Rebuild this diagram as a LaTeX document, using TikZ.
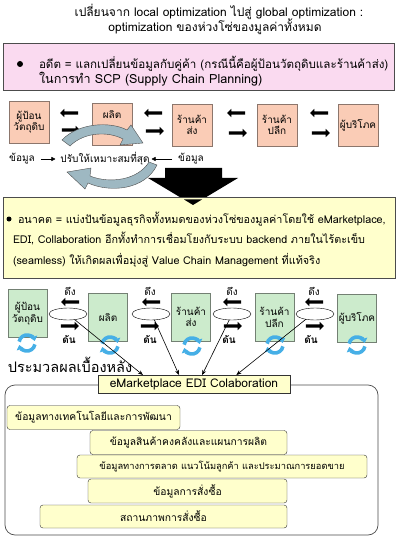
\documentclass[tikz,border=0pt]{standalone}
\usepackage{fontspec}
\setmainfont[Script=Thai]{Loma}
\usetikzlibrary{shapes.geometric,shapes.arrows,arrows.meta}

\definecolor{pinkfill}{RGB}{250,218,240}
\definecolor{peach}{RGB}{250,204,182}
\definecolor{peachedge}{RGB}{140,118,108}
\definecolor{greenfill}{RGB}{204,235,204}
\definecolor{greenedge}{RGB}{115,128,115}
\definecolor{softyellow}{RGB}{255,255,204}
\definecolor{swirl}{RGB}{158,184,194}
\definecolor{cycblue}{RGB}{70,175,230}

\begin{document}
\begin{tikzpicture}[x=1pt, y=-1pt,
  every node/.style={inner sep=1pt, outer sep=0pt},
  big/.style={font=\fontsize{12}{14}\selectfont},
  mid/.style={font=\fontsize{10.8}{13}\selectfont},
  small/.style={font=\fontsize{10}{11.5}\selectfont},
  pbox/.style={draw=peachedge, fill=peach, minimum width=40pt, minimum height=42pt, align=center, small},
  gbox/.style={draw=greenedge, fill=greenfill, minimum width=39pt, minimum height=48pt, align=center, small},
  infobox/.style={draw=black!80, fill=softyellow, rounded corners=3pt, minimum height=24pt, font=\fontsize{10.3}{12}\selectfont},
  blk/.style={single arrow, fill=black, minimum height=18pt, inner sep=1.5pt, single arrow head extend=2.5pt, single arrow head indent=0pt},
  link/.style={ellipse, draw, fill=white, minimum width=38pt, minimum height=12pt, inner sep=0pt},
  dot/.style={circle, fill=black, minimum size=6pt, inner sep=0pt},
  feed/.style={-{Triangle[length=4pt,width=4pt]}, line width=0.5pt},
  share/.style={-{Stealth[length=5pt,width=4pt]}, line width=0.6pt},
  cyc/.style={draw=cycblue, line width=3.6pt, -{Triangle[length=4.5pt,width=7.5pt]}},
  swirlarrow/.style={fill=swirl, draw=black!70, line width=0.4pt}]
\useasboundingbox (0,0) rectangle (400,537);

% heading
\node[big] (title1) at (219,12) {เปลี่ยนจาก local optimization ไปสู่ global optimization :};
\node[big] (title2) at (215,27) {optimization ของห่วงโซ่ของมูลค่าทั้งหมด};

% past
\node[draw=black!70, fill=pinkfill, minimum width=391pt, minimum height=47pt] (past) at (198.5,66.5) {};
\node[dot] (dot1) at (20,64) {};
\node[font=\fontsize{11.6}{14}\selectfont, anchor=west] (pastA) at (38,64) {อดีต = แลกเปลี่ยนข้อมูลกับคู่ค้า (กรณีนี้คือผู้ป้อนวัตถุดิบและร้านค้าส่ง)};
\node[font=\fontsize{12.6}{14}\selectfont, anchor=west] (pastB) at (38,79) {ในการทำ SCP (Supply Chain Planning)};

\node[pbox] (p1) at (29,122) {ผู้ป้อน\\วัตถุดิบ};
\node[pbox, text depth=20pt] (p2) at (112,124) {ผลิต};
\node[pbox] (p3) at (192,125) {ร้านค้า\\ส่ง};
\node[pbox] (p4) at (277,125) {ร้านค้า\\ปลีก};
\node[pbox] (p5) at (358,125) {ผู้บริโภค};

\node[blk, shape border rotate=180] (pl1) at (70,113) {};
\node[blk] (pr1) at (70,130) {};
\node[blk, shape border rotate=180] (pl2) at (154,113) {};
\node[blk] (pr2) at (154,131) {};
\node[blk, shape border rotate=180] (pl3) at (237,113) {};
\node[blk] (pr3) at (237,133) {};
\node[blk, shape border rotate=180] (pl4) at (320,113) {};
\node[blk] (pr4) at (320,133) {};

\filldraw[swirlarrow] (62,140) .. controls (78,123) and (110,121) .. (127,130) -- (131,125) -- (143,143) -- (120,145) -- (123,139) .. controls (108,131) and (84,132) .. (70,146) -- cycle;
\filldraw[swirlarrow] (157,165) .. controls (145,190) and (110,193) .. (88,183) -- (85,189) -- (67,172) -- (91,168) -- (90,176) .. controls (110,184) and (138,180) .. (149,162) -- cycle;

\node[small] (data1) at (22,159) {ข้อมูล};
\node[small] (tune) at (105,159) {ปรับให้เหมาะสมที่สุด};
\node[small] (data2) at (191,159) {ข้อมูล};
\draw[feed, shorten <=5pt, shorten >=4pt] (data1) -- (tune);
\draw[feed, shorten <=5pt, shorten >=1pt] (data2) -- (tune);

\fill (165,168) -- (222,168) -- (222,178) -- (238,178) -- (193,205) -- (148,178) -- (165,178) -- cycle;

% future
\node[draw=black!70, fill=softyellow, minimum width=392pt, minimum height=81pt] (future) at (199,237.5) {};
\fill (193,205) -- (184,199.5) -- (202,199.5) -- cycle;
\node[dot, minimum size=5pt] (dot2) at (9,219) {};
\node[mid, anchor=west] (futA) at (17,219) {อนาคต = แบ่งปันข้อมูลธุรกิจทั้งหมดของห่วงโซ่ของมูลค่าโดยใช้ eMarketplace,};
\node[mid, anchor=west] (futB) at (12,239) {EDI, Collaboration อีกทั้งทำการเชื่อมโยงกับระบบ backend ภายในไร้ตะเข็บ};
\node[mid, anchor=west] (futC) at (12,260) {(seamless) ให้เกิดผลเพื่อมุ่งสู่ Value Chain Management ที่แท้จริง};

\node[gbox] (g1) at (27.5,313.5) {ผู้ป้อน\\วัตถุดิบ};
\node[gbox] (g2) at (108,317.5) {ผลิต};
\node[gbox] (g3) at (191,317) {ร้านค้า\\ส่ง};
\node[gbox] (g4) at (274.5,317.5) {ร้านค้า\\ปลีก};
\node[gbox] (g5) at (357,318.5) {ผู้บริโภค};

\draw[cyc] (27,343) ++(190:8) arc[start angle=190, end angle=345, radius=8];
\draw[cyc] (27,343) ++(10:8) arc[start angle=10, end angle=165, radius=8];
\draw[cyc] (110,345) ++(190:8) arc[start angle=190, end angle=345, radius=8];
\draw[cyc] (110,345) ++(10:8) arc[start angle=10, end angle=165, radius=8];
\draw[cyc] (192,346) ++(190:8) arc[start angle=190, end angle=345, radius=8];
\draw[cyc] (192,346) ++(10:8) arc[start angle=10, end angle=165, radius=8];
\draw[cyc] (275,345) ++(190:8) arc[start angle=190, end angle=345, radius=8];
\draw[cyc] (275,345) ++(10:8) arc[start angle=10, end angle=165, radius=8];
\draw[cyc] (357,345) ++(190:8) arc[start angle=190, end angle=345, radius=8];
\draw[cyc] (357,345) ++(10:8) arc[start angle=10, end angle=165, radius=8];

\node[link] (e1) at (68,314) {};
\node[link] (e2) at (151,314) {};
\node[link] (e3) at (232,314) {};
\node[link] (e4) at (315,314) {};

\node[small] (pull1) at (70,291) {ดึง};
\node[small] (pull2) at (150,291) {ดึง};
\node[small] (pull3) at (232,291) {ดึง};
\node[small] (pull4) at (314,291) {ดึง};
\node[blk, shape border rotate=180] (gl1) at (71,302) {};
\node[blk, shape border rotate=180] (gl2) at (152,302) {};
\node[blk, shape border rotate=180] (gl3) at (233,302) {};
\node[blk, shape border rotate=180] (gl4) at (315,302) {};
\node[blk] (gr1) at (69,326) {};
\node[blk] (gr2) at (149,326) {};
\node[blk] (gr3) at (232,326) {};
\node[blk] (gr4) at (314,326) {};
\node[small, font=\fontsize{10}{11}\selectfont\bfseries] (push1) at (69,339) {ดัน};
\node[small, font=\fontsize{10}{11}\selectfont\bfseries] (push2) at (150,339) {ดัน};
\node[small, font=\fontsize{10}{11}\selectfont\bfseries] (push3) at (229,339) {ดัน};
\node[small, font=\fontsize{10}{11}\selectfont\bfseries] (push4) at (311,339) {ดัน};

\node[font=\fontsize{14.5}{16}\selectfont] (back) at (70,365) {ประมวลผลเบื้องหลัง};

% shared data
\draw[draw=black!70, fill=white, rounded corners=10pt, line width=0.7pt] (5,385) rectangle (378,535);
\node[draw=black!80, fill=softyellow, minimum width=192pt, minimum height=18pt, font=\fontsize{12}{14}\selectfont] (edi) at (194,384) {eMarketplace EDI Colaboration};

\draw[share] (e1.-40) -- (edi.170);
\draw[share] (e2.-60) -- (edi.149);
\draw[share] (e3.-115) -- (edi.48);
\draw[share] (e4.-150) -- (edi.12);

\node[infobox, minimum width=173pt] (tech) at (93.5,417.5) {ข้อมูลทางเทคโนโลยีและการพัฒนา};
\node[infobox, minimum width=197pt] (stock) at (188.5,442.5) {ข้อมูลสินค้าคงคลังและแผนการผลิต};
\node[infobox, minimum width=290pt, minimum height=23pt, font=\fontsize{9.3}{11}\selectfont] (market) at (222,466.5) {ข้อมูลทางการตลาด แนวโน้มลูกค้า และประมาณการยอดขาย};
\node[infobox, minimum width=199pt] (order) at (187.5,491) {ข้อมูลการสั่งซื้อ};
\node[infobox, minimum width=247pt, minimum height=23pt] (status) at (163.5,516.5) {สถานภาพการสั่งซื้อ};
\end{tikzpicture}
\end{document}
